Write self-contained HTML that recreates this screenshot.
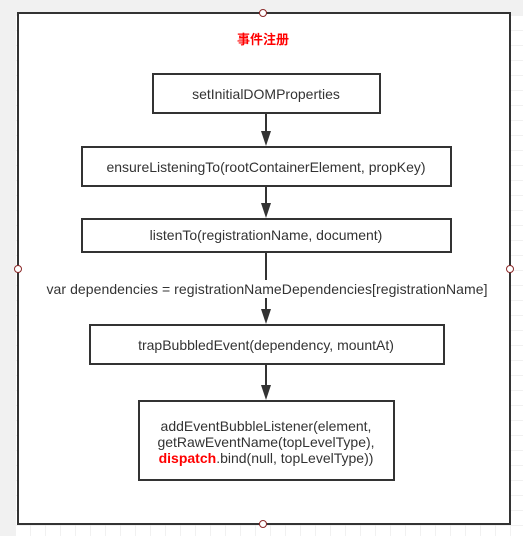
<!DOCTYPE html>
<html><head><style>
html,body{margin:0;padding:0;width:523px;height:536px;overflow:hidden;background:#f1f1f1;}
svg{position:absolute;left:0;top:0}
text{font-family:"Liberation Sans","Noto Sans CJK SC",sans-serif;font-size:14px;fill:#333}
</style></head><body>
<svg width="523" height="536" viewBox="0 0 523 536">
<defs>
<pattern id="g" width="15" height="15" patternUnits="userSpaceOnUse" x="16" y="16">
<path d="M15 0V15H0" fill="none" stroke="#e3e3e3" stroke-width="1"/>
</pattern>
</defs>
<rect x="16" y="16" width="507" height="520" fill="#fff"/>
<rect x="16" y="16" width="507" height="520" fill="url(#g)"/>
<rect x="18" y="13" width="492" height="511" fill="#fff" stroke="#333" stroke-width="2"/>
<text x="263" y="44" text-anchor="middle" style="fill:#f00;font-weight:bold;font-size:13px">事件注册</text>
<g fill="#fff" stroke="#333" stroke-width="2">
<rect x="153" y="74" width="227" height="39"/>
<rect x="82" y="147" width="369" height="39"/>
<rect x="82" y="219" width="369" height="33"/>
<rect x="90" y="325" width="354" height="39"/>
<rect x="139" y="401" width="255" height="79"/>
</g>
<g stroke="#333" stroke-width="2">
<line x1="266" y1="113" x2="266" y2="134"/>
<line x1="266" y1="186" x2="266" y2="206"/>
<line x1="266" y1="252" x2="266" y2="312"/>
<line x1="266" y1="364" x2="266" y2="388"/>
</g>
<g fill="#333">
<path d="M261 131h10l-5 15z"/>
<path d="M261 203h10l-5 15z"/>
<path d="M261 309h10l-5 15z"/>
<path d="M261 385h10l-5 15z"/>
</g>
<rect x="44" y="280" width="446" height="18" fill="#fff"/>
<text x="267" y="294" text-anchor="middle" textLength="441">var dependencies = registrationNameDependencies[registrationName]</text>
<text x="266" y="99" text-anchor="middle">setInitialDOMProperties</text>
<text x="266" y="172" text-anchor="middle">ensureListeningTo(rootContainerElement, propKey)</text>
<text x="266" y="240" text-anchor="middle">listenTo(registrationName, document)</text>
<text x="266" y="350" text-anchor="middle">trapBubbledEvent(dependency, mountAt)</text>
<text x="266" y="431" text-anchor="middle">addEventBubbleListener(element,</text>
<text x="266" y="447" text-anchor="middle">getRawEventName(topLevelType),</text>
<text x="266" y="463" text-anchor="middle"><tspan style="fill:#f00;font-weight:bold">dispatch</tspan>.bind(null, topLevelType))</text>
<g fill="#fff" stroke="#8b2a2a" stroke-width="1">
<circle cx="263" cy="13" r="3.5"/>
<circle cx="263" cy="524" r="3.5"/>
<circle cx="18" cy="269" r="3.5"/>
<circle cx="510" cy="269" r="3.5"/>
</g>
</svg>
</body></html>
